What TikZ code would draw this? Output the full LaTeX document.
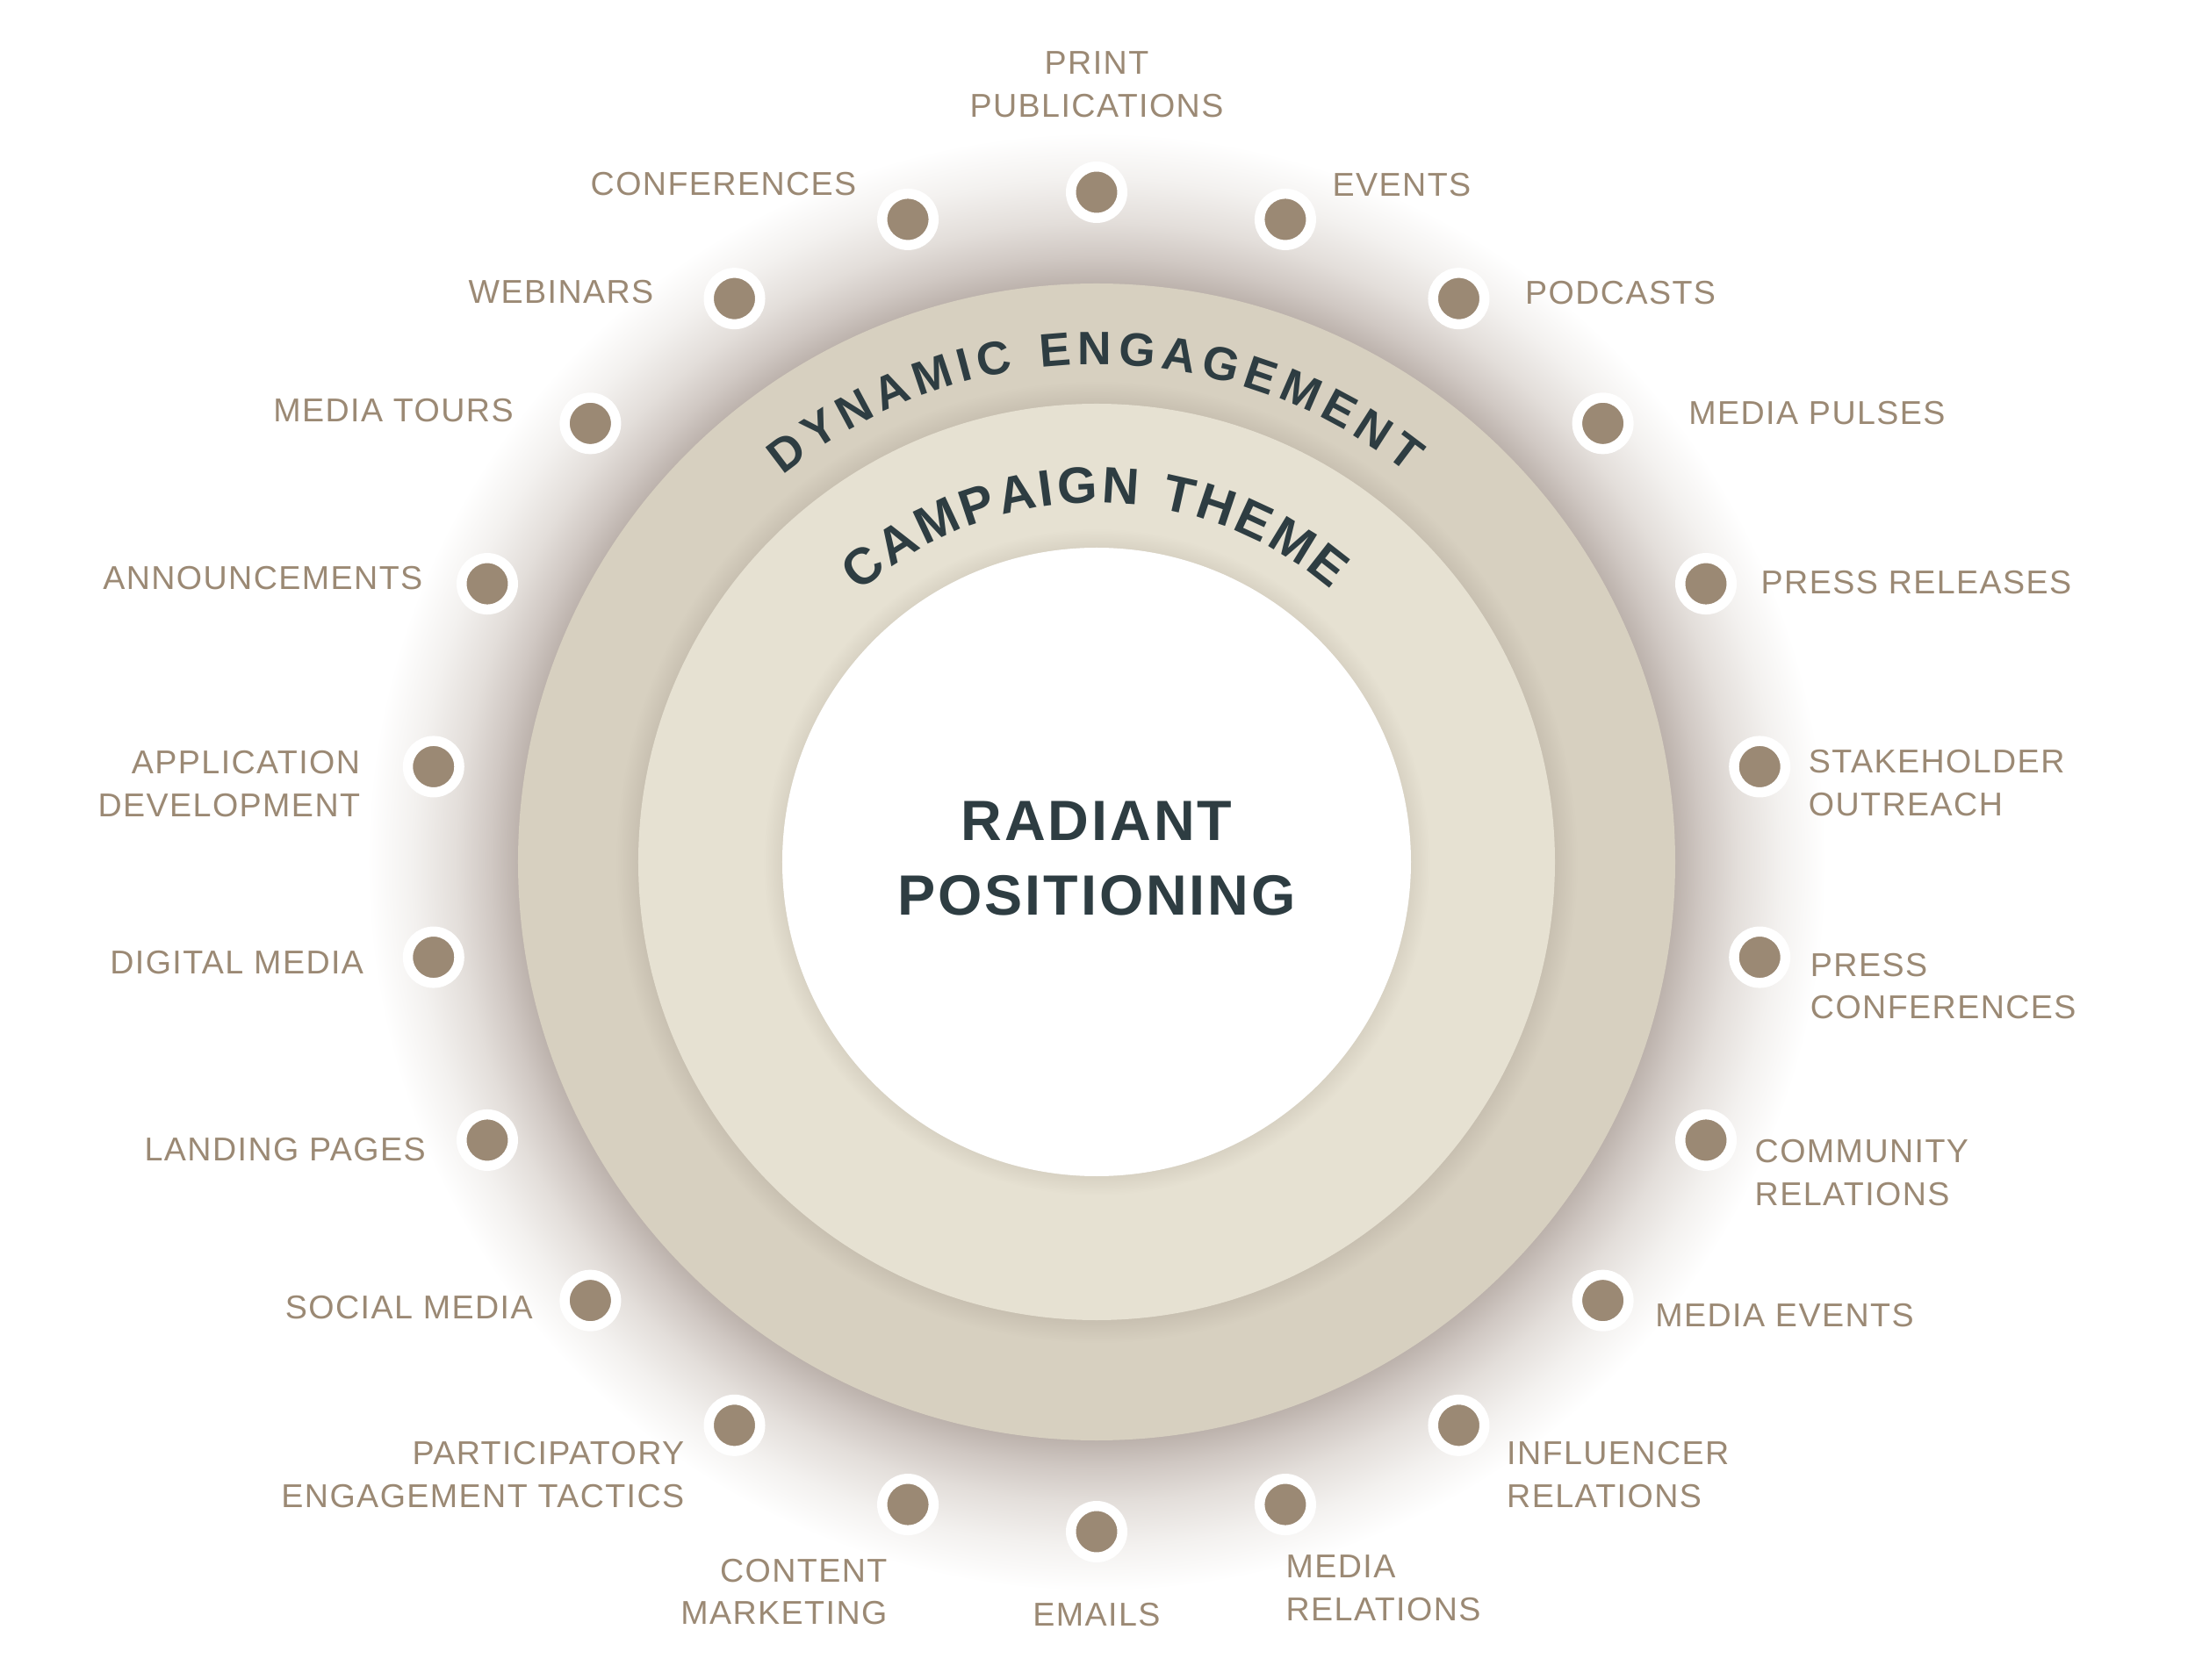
\documentclass[tikz,border=0pt]{standalone}
\usepackage{fontspec}
\setmainfont{Liberation Sans}
\newfontfamily\tagfont{Liberation Sans}[LetterSpace=3.8]
\newfontfamily\headfont{Liberation Sans}[LetterSpace=4.6]
\usepackage{tikz}
\usetikzlibrary{positioning, decorations.text}

\definecolor{dotbrown}{RGB}{155,137,116}
\definecolor{darkslate}{RGB}{46,61,66}
\definecolor{haloA}{RGB}{188,178,172}
\definecolor{haloB}{RGB}{208,200,195}
\definecolor{haloC}{RGB}{227,222,218}
\definecolor{haloD}{RGB}{243,241,239}
\definecolor{ringout}{RGB}{215,208,192}
\definecolor{ringoutdark}{RGB}{200,192,177}
\definecolor{ringmid}{RGB}{230,225,210}
\definecolor{ringmiddark}{RGB}{216,210,195}

% the circle edge lies at 25bp in a TikZ radial shading
\pgfdeclareradialshading{halo}{\pgfpointorigin}{color(0bp)=(haloA); color(19.15bp)=(haloA); color(20.05bp)=(haloB); color(21.2bp)=(haloC); color(22.65bp)=(haloD); color(24.15bp)=(white); color(50bp)=(white)}
\pgfdeclareradialshading{outerring}{\pgfpointorigin}{color(0bp)=(ringoutdark); color(19.8bp)=(ringoutdark); color(20.8bp)=(ringout); color(50bp)=(ringout)}
\pgfdeclareradialshading{midring}{\pgfpointorigin}{color(0bp)=(ringmiddark); color(17.15bp)=(ringmiddark); color(18.2bp)=(ringmid); color(50bp)=(ringmid)}

\begin{document}
\begin{tikzpicture}[
    dot/.style={circle, fill=dotbrown, draw=white, line width=0.115cm, minimum size=0.585cm, inner sep=0pt},
    lbl/.style={text=dotbrown, font=\tagfont\fontsize{10.7}{13.9}\selectfont, inner sep=0pt},
    node distance=0.25cm]
    \useasboundingbox (-12.49,-9.32) rectangle (12.51,9.82);
    \fill[white] (-12.49,-9.32) rectangle (12.51,9.82);

    % rings
    \shade[shading=halo] (0,0) circle (8.6);
    \shade[shading=outerring] (0,0) circle (6.59);
    \shade[shading=midring] (0,0) circle (5.22);
    \fill[white] (0,0) circle (3.58);

    % curved titles
    \path[decorate, decoration={text along path, text align=fit to path, text color=darkslate,
        text={|\tagfont\bfseries\fontsize{15.2}{18}\selectfont|DYNAMIC ENGAGEMENT}}]
        (129.0:5.67) arc[start angle=129.0, end angle=51.4, radius=5.67];
    \path[decorate, decoration={text along path, text align=fit to path, text color=darkslate,
        text={|\tagfont\bfseries\fontsize{16.6}{19}\selectfont|CAMPAIGN THEME}}]
        (131.3:4.09) arc[start angle=131.3, end angle=49.3, radius=4.09];

    \node (core) at (0,0.04) [align=center, text=darkslate, inner sep=0pt,
        font=\headfont\bfseries\fontsize{18.4}{24.2}\selectfont] {RADIANT\\POSITIONING};

    % dots
    \node (d0) [dot] at (90:7.63) {};
    \node (d1) [dot] at (73.636:7.63) {};
    \node (d2) [dot] at (57.273:7.63) {};
    \node (d3) [dot] at (40.909:7.63) {};
    \node (d4) [dot] at (24.545:7.63) {};
    \node (d5) [dot] at (8.182:7.63) {};
    \node (d6) [dot] at (-8.182:7.63) {};
    \node (d7) [dot] at (-24.545:7.63) {};
    \node (d8) [dot] at (-40.909:7.63) {};
    \node (d9) [dot] at (-57.273:7.63) {};
    \node (d10) [dot] at (-73.636:7.63) {};
    \node (d11) [dot] at (-90:7.63) {};
    \node (d12) [dot] at (-106.364:7.63) {};
    \node (d13) [dot] at (-122.727:7.63) {};
    \node (d14) [dot] at (-139.091:7.63) {};
    \node (d15) [dot] at (-155.455:7.63) {};
    \node (d16) [dot] at (-171.818:7.63) {};
    \node (d17) [dot] at (171.818:7.63) {};
    \node (d18) [dot] at (155.455:7.63) {};
    \node (d19) [dot] at (139.091:7.63) {};
    \node (d20) [dot] at (122.727:7.63) {};
    \node (d21) [dot] at (106.364:7.63) {};

    % labels
    \node (t0) [lbl, align=center, above=0.495cm of d0] {PRINT\\PUBLICATIONS};
    \node (t1) [lbl, right=0.18cm of d1, yshift=0.39cm] {EVENTS};
    \node (t2) [lbl, right=0.40cm of d2, yshift=0.07cm] {PODCASTS};
    \node (t3) [lbl, right=0.62cm of d3, yshift=0.12cm] {MEDIA PULSES};
    \node (t4) [lbl, right=0.27cm of d4, yshift=0.02cm] {PRESS RELEASES};
    \node (t5) [lbl, align=left, right=0.20cm of d5, yshift=-0.19cm] {STAKEHOLDER\\OUTREACH};
    \node (t6) [lbl, align=left, right=0.22cm of d6, yshift=-0.33cm] {PRESS\\CONFERENCES};
    \node (t7) [lbl, align=left, right=0.20cm of d7, yshift=-0.37cm] {COMMUNITY\\RELATIONS};
    \node (t8) [lbl, right=0.24cm of d8, yshift=-0.17cm] {MEDIA EVENTS};
    \node (t9) [lbl, align=left, right=0.19cm of d9, yshift=-0.56cm] {INFLUENCER\\RELATIONS};
    \node (t10) [lbl, align=left, below=0.22cm of d10.south, anchor=north west] {MEDIA\\RELATIONS};
    \node (t11) [lbl, below=0.455cm of d11] {EMAILS};
    \node (t12) [lbl, align=right, below=0.26cm of d12.south, anchor=north east, xshift=-0.23cm] {CONTENT\\MARKETING};
    \node (t13) [lbl, align=right, left=0.215cm of d13, yshift=-0.56cm] {PARTICIPATORY\\ENGAGEMENT TACTICS};
    \node (t14) [lbl, left=0.30cm of d14, yshift=-0.08cm] {SOCIAL MEDIA};
    \node (t15) [lbl, left=0.345cm of d15, yshift=-0.11cm] {LANDING PAGES};
    \node (t16) [lbl, left=0.44cm of d16, yshift=-0.06cm] {DIGITAL MEDIA};
    \node (t17) [lbl, align=right, left=0.48cm of d17, yshift=-0.20cm] {APPLICATION\\DEVELOPMENT};
    \node (t18) [lbl, left=0.38cm of d18, yshift=0.07cm] {ANNOUNCEMENTS};
    \node (t19) [lbl, left=0.52cm of d19, yshift=0.15cm] {MEDIA TOURS};
    \node (t20) [lbl, left=0.565cm of d20, yshift=0.08cm] {WEBINARS};
    \node (t21) [lbl, left=0.23cm of d21, yshift=0.40cm] {CONFERENCES};
\end{tikzpicture}
\end{document}
